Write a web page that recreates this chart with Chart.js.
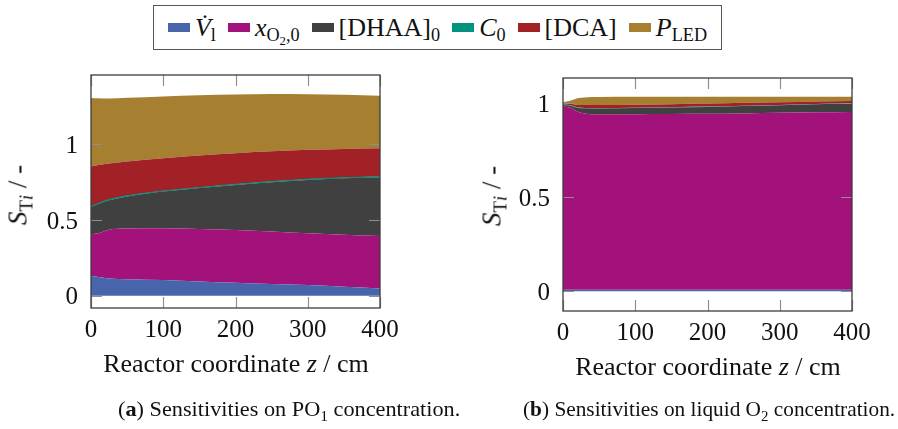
<!DOCTYPE html>
<html>
<head>
<meta charset="utf-8">
<script src="https://cdn.jsdelivr.net/npm/chart.js@4.4.1/dist/chart.umd.min.js"></script>
<style>
  body { margin: 0; background: #fff; }
  #page { position: relative; width: 898px; height: 429px; overflow: hidden;
          font-family: 'Liberation Serif', 'Times New Roman', serif; color: #111; }
  canvas { position: absolute; }
  #legend { position: absolute; left: 153px; top: 5px; width: 569px; height: 45px; box-sizing: border-box;
            border: 1px solid #555; display: flex; align-items: center; justify-content: center;
            font-size: 26px; white-space: nowrap; }
  .item { display: flex; align-items: center; margin: 0 6px; }
  .swatch { width: 22px; height: 9px; margin-right: 5px; flex: none; }
  sub { font-size: 70%; vertical-align: -0.3em; line-height: 0; }
  .xtitle, .ytitle { position: absolute; white-space: nowrap; transform: translate(-50%, -50%); }
  .xtitle { font-size: 26px; }
  .ytitle { font-size: 27px; transform: translate(-50%, -50%) rotate(-90deg); }
  .caption { position: absolute; top: 396px; font-size: 22px; white-space: nowrap; transform-origin: 0 50%; }
</style>
</head>
<body>
<div id="page">
  <div id="legend"></div>

  <canvas id="chartPO" width="420" height="340" style="left:0;top:60px"></canvas>
  <canvas id="chartO2" width="418" height="340" style="left:480px;top:60px"></canvas>

  <div class="ytitle" style="left:18px;top:195px"><i>S</i><sub>T<i>i</i></sub> / -</div>
  <div class="ytitle" style="left:492px;top:196px"><i>S</i><sub>T<i>i</i></sub> / -</div>
  <div class="xtitle" style="left:236px;top:364px">Reactor coordinate <i>z</i> / cm</div>
  <div class="xtitle" style="left:708px;top:367px">Reactor coordinate <i>z</i> / cm</div>

  <div class="caption" data-w="342" style="left:118px">(<b>a</b>) Sensitivities on PO<sub>1</sub> concentration.</div>
  <div class="caption" data-w="372" style="left:523px">(<b>b</b>) Sensitivities on liquid O<sub>2</sub> concentration.</div>
</div>

<script>
// series order, bottom to top of the stack
const seriesNames = ['V̇l', 'xO2,0', '[DHAA]0', 'C0', '[DCA]', 'PLED'];
const legendHtml = ['<i>V̇</i><sub>l</sub>', '<i>x</i><sub>O<sub>2</sub>,0</sub>', '[DHAA]<sub>0</sub>',
                    '<i>C</i><sub>0</sub>', '[DCA]', '<i>P</i><sub>LED</sub>'];
const seriesColors = ['#4864aa', '#a2127a', '#404040', '#00947e', '#a12127', '#a67f30'];

const xTicks = [0, 100, 200, 300, 400];
const yTicks = [0, 0.5, 1];

// (a) PO1 concentration
const zPO = [0, 10, 25, 50, 100, 150, 200, 250, 300, 350, 400];
const poVl   = [0.130, 0.125, 0.115, 0.110, 0.104, 0.095, 0.086, 0.078, 0.071, 0.060, 0.049];
const poXO2  = [0.275, 0.287, 0.320, 0.333, 0.341, 0.346, 0.348, 0.346, 0.341, 0.343, 0.345];
const poDHAA = [0.180, 0.193, 0.195, 0.212, 0.242, 0.269, 0.297, 0.325, 0.352, 0.371, 0.388];
const poC0   = [0.004, 0.004, 0.004, 0.004, 0.004, 0.004, 0.004, 0.004, 0.004, 0.004, 0.004];
const poDCA  = [0.263, 0.253, 0.238, 0.226, 0.216, 0.211, 0.205, 0.199, 0.194, 0.190, 0.187];
const poLED  = [0.452, 0.440, 0.428, 0.420, 0.407, 0.397, 0.387, 0.378, 0.366, 0.357, 0.346];

// (b) liquid O2 concentration
const zO2 = [0, 10, 20, 30, 50, 100, 150, 200, 250, 300, 350, 400];
const o2Vl   = [0.008, 0.008, 0.008, 0.008, 0.008, 0.008, 0.008, 0.008, 0.008, 0.008, 0.008, 0.008];
const o2XO2  = [0.974, 0.968, 0.947, 0.937, 0.932, 0.933, 0.934, 0.935, 0.937, 0.940, 0.943, 0.945];
const o2DHAA = [0.008, 0.010, 0.020, 0.027, 0.031, 0.032, 0.034, 0.036, 0.039, 0.040, 0.042, 0.044];
const o2C0   = [0.002, 0.002, 0.002, 0.002, 0.002, 0.002, 0.002, 0.002, 0.002, 0.002, 0.002, 0.002];
const o2DCA  = [0.006, 0.008, 0.013, 0.015, 0.016, 0.016, 0.016, 0.016, 0.015, 0.014, 0.013, 0.012];
const o2LED  = [0.006, 0.016, 0.035, 0.041, 0.043, 0.042, 0.039, 0.036, 0.032, 0.029, 0.025, 0.022];

const tickFont = { family: "'Liberation Serif', 'Times New Roman', serif", size: 25 };

// inward tick marks on all four sides plus the box
const framePlugin = {
    id: 'frame',
    afterDatasetsDraw(chart) {
        const ctx = chart.ctx;
        const a = chart.chartArea;
        const x = chart.scales.x, y = chart.scales.y;
        const len = 11;
        ctx.save();
        ctx.strokeStyle = '#8f8f8f';
        ctx.lineWidth = 1.2;
        ctx.beginPath();
        x.ticks.forEach(function (t) {
            const px = Math.round(x.getPixelForValue(t.value)) + 0.5;
            ctx.moveTo(px, a.bottom); ctx.lineTo(px, a.bottom - len);
            ctx.moveTo(px, a.top); ctx.lineTo(px, a.top + len);
        });
        y.ticks.forEach(function (t) {
            const py = Math.round(y.getPixelForValue(t.value)) + 0.5;
            ctx.moveTo(a.left, py); ctx.lineTo(a.left + len, py);
            ctx.moveTo(a.right, py); ctx.lineTo(a.right - len, py);
        });
        ctx.stroke();
        ctx.strokeStyle = '#3c3c3c';
        ctx.lineWidth = 1.3;
        ctx.strokeRect(a.left, a.top, a.width, a.height);
        ctx.restore();
    }
};

function makeDatasets(z, series, c0Line) {
    return series.map(function (vals, i) {
        const edge = i === 3 && c0Line;
        return {
            label: seriesNames[i],
            data: vals.map(function (v, k) { return { x: z[k], y: v }; }),
            backgroundColor: seriesColors[i],
            borderColor: edge ? seriesColors[i] : 'rgba(0,0,0,0)',
            borderWidth: edge ? 1.1 : 1,
            fill: i === 0 ? 'origin' : '-1',
            pointRadius: 0,
            cubicInterpolationMode: 'monotone'
        };
    });
}

function initChart(id, z, series, c0Line, yMin, yMax, pad, xAxisHeight, yAxisWidth) {
    const ctx = document.getElementById(id).getContext('2d');
    return new Chart(ctx, {
        type: 'line',
        data: { datasets: makeDatasets(z, series, c0Line) },
        options: {
            responsive: false,
            animation: false,
            layout: { padding: pad },
            plugins: { legend: { display: false }, tooltip: { enabled: false } },
            scales: {
                x: {
                    type: 'linear', min: 0, max: 400,
                    afterBuildTicks: function (axis) { axis.ticks = xTicks.map(function (v) { return { value: v }; }); },
                    afterFit: function (axis) {
                        axis.height = xAxisHeight;
                        axis.paddingLeft = 0; axis.paddingRight = 0;
                    },
                    grid: { display: false, drawTicks: false },
                    border: { display: false },
                    ticks: { font: tickFont, color: '#111', padding: 7, maxRotation: 0,
                             callback: function (v) { return String(v); } }
                },
                y: {
                    stacked: true, min: yMin, max: yMax,
                    afterBuildTicks: function (axis) { axis.ticks = yTicks.map(function (v) { return { value: v }; }); },
                    afterFit: function (axis) {
                        axis.width = yAxisWidth;
                        axis.paddingTop = 0; axis.paddingBottom = 0;
                    },
                    grid: { display: false, drawTicks: false },
                    border: { display: false },
                    ticks: { font: tickFont, color: '#111', padding: 13, labelOffset: 2,
                             callback: function (v) { return String(v); } }
                }
            }
        },
        plugins: [framePlugin]
    });
}

const chartPO = initChart('chartPO', zPO, [poVl, poXO2, poDHAA, poC0, poDCA, poLED], true,
    -0.08, 1.455, { left: 0, top: 15, right: 40, bottom: 0 }, 92, 91);
const chartO2 = initChart('chartO2', zO2, [o2Vl, o2XO2, o2DHAA, o2C0, o2DCA, o2LED], false,
    -0.105, 1.133, { left: 0, top: 18, right: 46, bottom: 0 }, 89, 83);

// legend shared by both panels
const legend = document.getElementById('legend');
chartPO.data.datasets.forEach(function (ds, i) {
    const item = document.createElement('span');
    item.className = 'item';
    item.innerHTML = '<span class="swatch" style="background:' + ds.backgroundColor + '"></span>' +
                     '<span>' + legendHtml[i] + '</span>';
    legend.appendChild(item);
});

// squeeze the captions to their set widths
document.querySelectorAll('.caption').forEach(function (el) {
    const w = parseFloat(el.dataset.w);
    el.style.transform = 'scaleX(' + (w / el.offsetWidth) + ')';
});
</script>
</body>
</html>
